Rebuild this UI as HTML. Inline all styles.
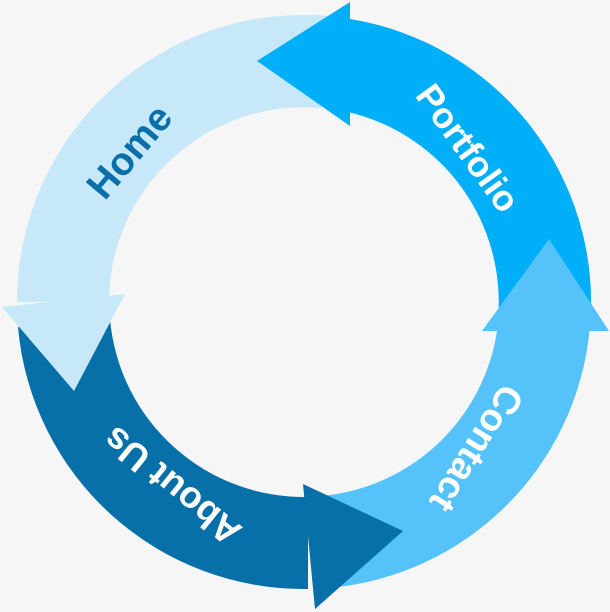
<!DOCTYPE html>
<html><head><meta charset="utf-8"><style>
html,body{margin:0;padding:0;background:#f6f6f6;}
svg{display:block}
text{font-family:"Liberation Sans",sans-serif;font-weight:bold;}
</style></head><body>
<svg width="610" height="612" viewBox="0 0 610 612" xmlns="http://www.w3.org/2000/svg">
<rect width="610" height="612" fill="#f6f6f6"/>
<path d="M590 327 A287 287 0 0 0 350 19 L350 112.5 A195 195 0 0 1 498 319 Z" fill="#00aff8"/>
<path d="M329 16 A287 287 0 0 0 17 302 L109 302 A195 195 0 0 1 321 108 Z" fill="#c6e8f8"/>
<path d="M18 327 A287 287 0 0 0 308 589 L308 497 A195 195 0 0 1 110 319 Z" fill="#0870a8"/>
<path d="M329 588 A287 287 0 0 0 589.5 331 L497 331 A195 195 0 0 1 321 496 Z" fill="#55c2fa"/>
<polygon points="350,2 257,61 350,126" fill="#00aff8"/>
<polygon points="2,307 125,294 74,391" fill="#c6e8f8"/>
<polygon points="303,484 315,609 403,531" fill="#0870a8"/>
<polygon points="482,331 609,331 549,239" fill="#55c2fa"/>
<text x="0" y="0" font-size="39" fill="#0a6ea8" text-anchor="middle" dominant-baseline="central" transform="translate(130,152) rotate(-50)">Home</text>
<text x="0" y="0" font-size="36" fill="#ffffff" text-anchor="middle" dominant-baseline="central" transform="translate(468,148) rotate(54)">Portfolio</text>
<text x="0" y="0" font-size="38" fill="#ffffff" text-anchor="middle" dominant-baseline="central" transform="translate(476,448) rotate(122)">Contact</text>
<text x="0" y="0" font-size="37" fill="#ffffff" text-anchor="middle" dominant-baseline="central" transform="translate(172,486) rotate(219)">About Us</text>
</svg>
</body></html>
